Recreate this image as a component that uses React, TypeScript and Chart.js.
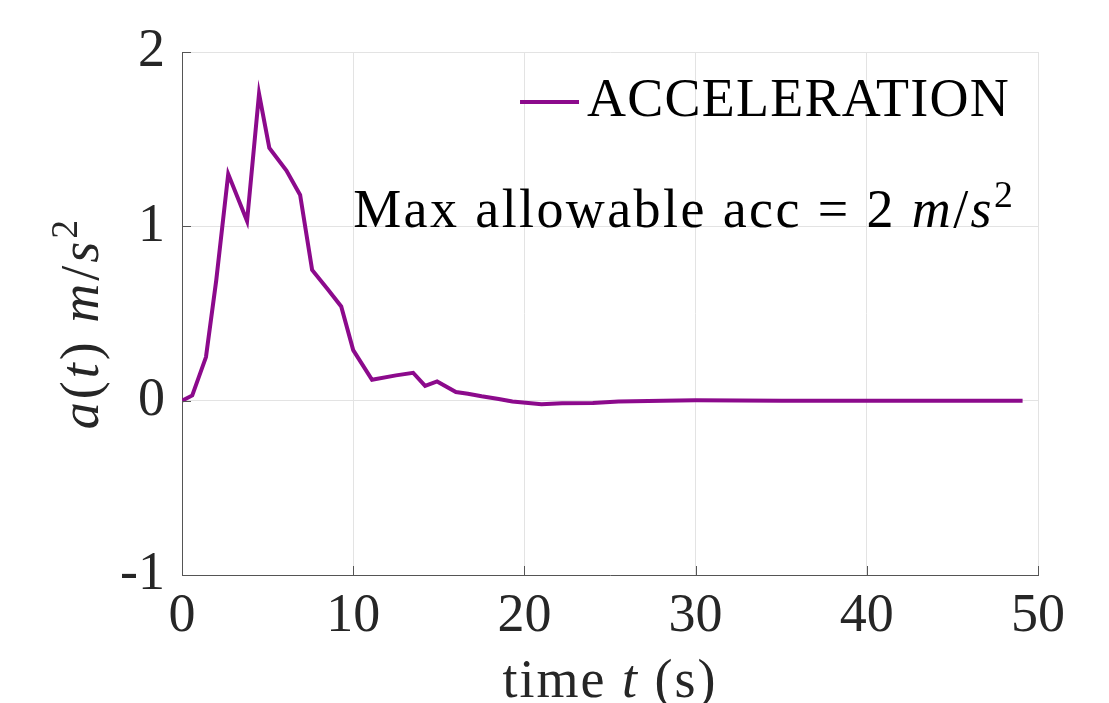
import React, { useEffect, useRef } from "react";
import { Chart, registerables } from "chart.js";

Chart.register(...registerables);

// ---- data ----
const timeS = [
  0, 0.6, 1.4, 2.0, 2.7, 3.8, 4.5, 5.1, 6.1, 6.9, 7.6, 8.5, 9.3, 10.0, 11.1,
  12.5, 13.5, 14.2, 14.9, 16.0, 16.7, 17.5, 18.5, 19.3, 21.0, 22.2, 24.0, 25.5,
  28.1, 30, 35, 40, 45, 49.1,
];
const accel = [
  0, 0.03, 0.25, 0.69, 1.3, 1.03, 1.76, 1.45, 1.32, 1.18, 0.75, 0.64, 0.54,
  0.29, 0.12, 0.145, 0.16, 0.085, 0.11, 0.05, 0.04, 0.025, 0.01, -0.005, -0.02,
  -0.015, -0.013, -0.005, 0, 0.002, 0, 0, 0, 0,
];
const seriesLabel = "ACCELERATION";
const xRange = [0, 50];
const yRange = [-1, 2];
const xStep = 10;
const yStep = 1;
const noteAt = [10, 1]; // data position of the annotation (left, baseline)

type Seg = { t: string; it?: boolean; sup?: boolean };
const yTitle: Seg[] = [
  { t: "a", it: true },
  { t: "(" },
  { t: "t", it: true },
  { t: ") " },
  { t: "m", it: true },
  { t: "/" },
  { t: "s", it: true },
  { t: "2", sup: true },
];
const xTitle: Seg[] = [{ t: "time " }, { t: "t", it: true }, { t: " (s)" }];
const noteText: Seg[] = [
  { t: "Max allowable acc = 2 " },
  { t: "m", it: true },
  { t: "/" },
  { t: "s", it: true },
  { t: "2", sup: true },
];

const FONT = "'Liberation Serif', 'Times New Roman', serif";
const LINE_COLOR = "#8C0A8C";
const TEXT_DARK = "#262626";

function segFont(s: Seg, size: number) {
  const sz = s.sup ? size * 0.7 : size;
  return `${s.it ? "italic " : ""}${sz}px ${FONT}`;
}
function measureRich(ctx: any, segs: Seg[], size: number, ls: number) {
  let w = 0;
  for (const s of segs) {
    ctx.font = segFont(s, size);
    ctx.letterSpacing = ls + "px";
    w += ctx.measureText(s.t).width;
  }
  return w;
}
function drawRich(ctx: any, segs: Seg[], x: number, y: number, size: number, ls: number, color: string) {
  ctx.fillStyle = color;
  ctx.textBaseline = "alphabetic";
  ctx.textAlign = "left";
  let cx = x;
  for (const s of segs) {
    ctx.font = segFont(s, size);
    ctx.letterSpacing = ls + "px";
    ctx.fillText(s.t, cx, s.sup ? y - size * 0.38 : y);
    cx += ctx.measureText(s.t).width;
  }
}

const overlayPlugin = {
  id: "overlay",
  afterDraw(chart: any) {
    const { ctx, chartArea } = chart;
    const xs = chart.scales.x;
    const ys = chart.scales.y;
    ctx.save();

    // inward tick marks (MATLAB style)
    ctx.strokeStyle = "#555555";
    ctx.lineWidth = 1;
    ctx.beginPath();
    for (const t of xs.ticks) {
      const px = Math.round(xs.getPixelForValue(t.value)) + 0.5;
      ctx.moveTo(px, chartArea.bottom);
      ctx.lineTo(px, chartArea.bottom - 9);
    }
    for (const t of ys.ticks) {
      const py = Math.round(ys.getPixelForValue(t.value)) + 0.5;
      ctx.moveTo(chartArea.left, py);
      ctx.lineTo(chartArea.left + 9, py);
    }
    ctx.stroke();

    const size = 54;

    // legend (inside, top-right)
    ctx.font = `${size}px ${FONT}`;
    ctx.letterSpacing = "1.25px";
    const lw = ctx.measureText(seriesLabel).width;
    const textX = chartArea.right - 28 - lw;
    const legY = chartArea.top + 50;
    ctx.strokeStyle = LINE_COLOR;
    ctx.lineWidth = 4;
    ctx.beginPath();
    ctx.moveTo(textX - 67, legY);
    ctx.lineTo(textX - 8, legY);
    ctx.stroke();
    ctx.fillStyle = "#000";
    ctx.textBaseline = "alphabetic";
    ctx.textAlign = "left";
    ctx.fillText(seriesLabel, textX, chartArea.top + 64);

    // annotation
    drawRich(ctx, noteText, xs.getPixelForValue(noteAt[0]), ys.getPixelForValue(noteAt[1]) + 1, size, 2.4, "#000");

    // x title
    const xw = measureRich(ctx, xTitle, size, 2);
    drawRich(ctx, xTitle, (chartArea.left + chartArea.right) / 2 - xw / 2, 697, size, 2, TEXT_DARK);

    // y title
    const yw = measureRich(ctx, yTitle, size, 3);
    ctx.translate(98, 323);
    ctx.rotate(-Math.PI / 2);
    drawRich(ctx, yTitle, -yw / 2, 0, size, 3, TEXT_DARK);

    ctx.restore();
  },
};

export default function App() {
  const ref = useRef<HTMLCanvasElement | null>(null);
  useEffect(() => {
    if (!ref.current) return;
    const points = timeS.map((t, i) => ({ x: t, y: accel[i] }));
    const tickFont = { family: FONT, size: 54 };
    const chart = new Chart(ref.current, {
      type: "line",
      data: {
        datasets: [
          {
            label: seriesLabel,
            data: points,
            borderColor: LINE_COLOR,
            backgroundColor: LINE_COLOR,
            borderWidth: 4,
            pointRadius: 0,
            tension: 0,
            fill: false,
          },
        ],
      },
      options: {
        animation: false,
        responsive: false,
        devicePixelRatio: 1,
        layout: { padding: { top: 52, right: 71, left: 0, bottom: 0 } },
        plugins: {
          legend: { display: false },
          tooltip: { enabled: false },
        },
        scales: {
          x: {
            type: "linear",
            min: xRange[0],
            max: xRange[1],
            ticks: { stepSize: xStep, padding: 9, font: tickFont, color: TEXT_DARK },
            grid: { color: "#e3e3e3", drawTicks: false, lineWidth: 1 },
            border: { display: true, color: "#555555", width: 1 },
            afterFit: (s: any) => {
              s.height = 128;
            },
          },
          y: {
            type: "linear",
            min: yRange[0],
            max: yRange[1],
            ticks: { stepSize: yStep, padding: 17, font: tickFont, color: TEXT_DARK },
            grid: { color: "#e3e3e3", drawTicks: false, lineWidth: 1 },
            border: { display: true, color: "#555555", width: 1 },
            afterFit: (s: any) => {
              s.width = 182;
            },
          },
        },
      },
      plugins: [overlayPlugin],
    } as any);
    return () => chart.destroy();
  }, []);
  return (
    <div style={{ position: "absolute", left: 0, top: 0, width: 1109, height: 703, background: "#fff" }}>
      <canvas ref={ref} width={1109} height={703} />
    </div>
  );
}
